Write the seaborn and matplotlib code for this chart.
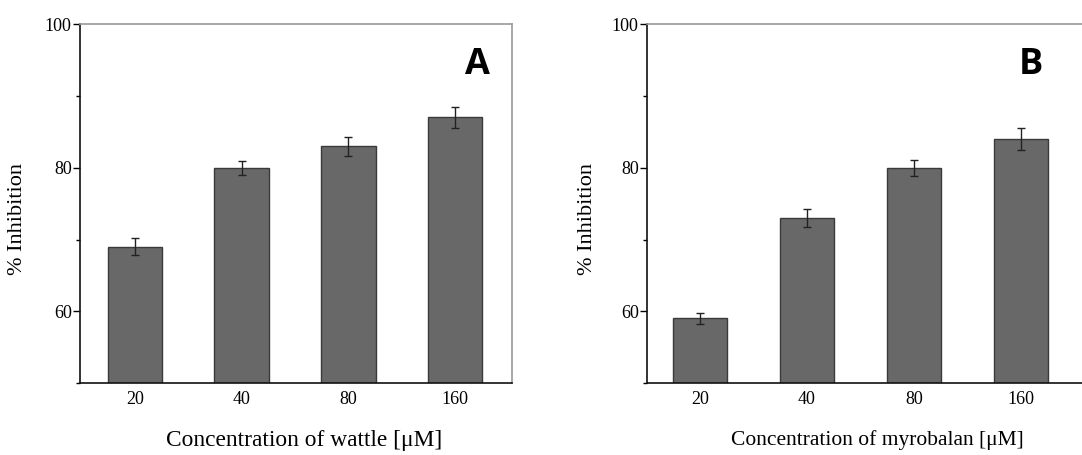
import numpy as np
import pandas as pd
import matplotlib
matplotlib.use("Agg")
import matplotlib.pyplot as plt
import seaborn as sns
from matplotlib.ticker import MultipleLocator

conc = ["20", "40", "80", "160"]
wattle_inh = [69, 80, 83, 87]
wattle_err = [1.2, 1.0, 1.3, 1.5]
myro_inh = [59, 73, 80, 84]
myro_err = [0.8, 1.3, 1.1, 1.5]

sns.set_style("ticks")
plt.rcParams['font.family'] = ['Liberation Serif', 'DejaVu Serif']
plt.rcParams['text.color'] = 'black'
plt.rcParams['axes.labelcolor'] = 'black'
plt.rcParams['xtick.color'] = 'black'
plt.rcParams['ytick.color'] = 'black'

fig = plt.figure(figsize=(10.82, 4.55), dpi=100)
axA = fig.add_axes([0.0739, 0.158, 0.399, 0.789])
axB = fig.add_axes([0.598, 0.158, 0.405, 0.789])

panels = [
    (axA, wattle_inh, wattle_err, "Concentration of wattle [μM]", "A",
     16.8, (-0.514, 3.53), 0.52, -0.123, 0.921),
    (axB, myro_inh, myro_err, "Concentration of myrobalan [μM]", "B",
     15.5, (-0.495, 3.6), 0.525, -0.114, 0.877),
]

for ax, vals, errs, xlab, letter, xfs, xl, xlx, ylx, lx in panels:
    df = pd.DataFrame({"conc": conc, "inh": vals})
    sns.barplot(data=df, x="conc", y="inh", ax=ax, color="#686868",
                saturation=1, width=0.51, edgecolor="#3a3a3a", linewidth=1)
    ax.errorbar(np.arange(len(conc)), vals, yerr=errs, fmt="none",
                ecolor="#222222", elinewidth=1, capsize=3, capthick=1)
    ax.set_ylim(50, 100)
    ax.set_xlim(*xl)
    ax.yaxis.set_major_locator(MultipleLocator(20))
    ax.yaxis.set_minor_locator(MultipleLocator(10))
    ax.tick_params(axis="y", which="major", length=5, width=1, labelsize=13, pad=1)
    ax.tick_params(axis="y", which="minor", length=3, width=1)
    ax.tick_params(axis="x", length=0, labelsize=13, pad=6)
    ax.set_xlabel(xlab, fontsize=xfs)
    ax.set_ylabel("% Inhibition", fontsize=16)
    ax.xaxis.set_label_coords(xlx, -0.132)
    ax.yaxis.set_label_coords(ylx, 0.458)
    for s in ["left", "bottom"]:
        ax.spines[s].set_color("#111111")
        ax.spines[s].set_linewidth(1.2)
    for s in ["top", "right"]:
        ax.spines[s].set_visible(True)
        ax.spines[s].set_color("#999999")
        ax.spines[s].set_linewidth(1.2)
    ax.text(lx, 0.885, letter, transform=ax.transAxes, ha="center", va="center",
            fontsize=26, fontweight="bold", family=["Open Sans", "DejaVu Sans"])

fig.savefig("out.png", dpi=100)
